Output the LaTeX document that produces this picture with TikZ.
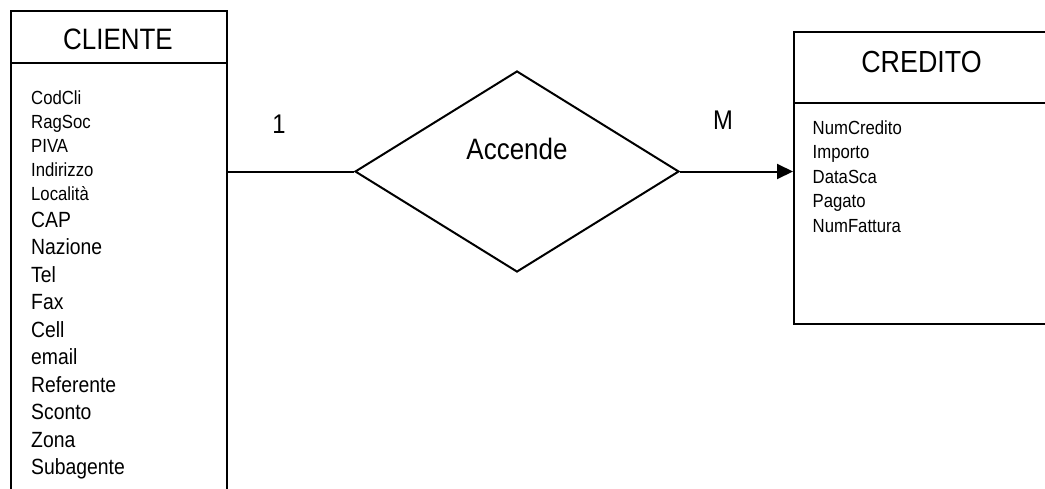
\documentclass[tikz,border=0pt]{standalone}
\usepackage{fontspec}
\setmainfont{Liberation Sans}[FakeStretch=0.88]
\usetikzlibrary{shapes.geometric,arrows.meta}

\begin{document}
\begin{tikzpicture}[x=1pt,y=-1pt,
  frame/.style={draw=black,line width=2pt},
  entitybox/.style={frame,rectangle,inner sep=0pt,anchor=north west},
  relshape/.style={frame,diamond,inner sep=0pt,minimum width=324pt,minimum height=201pt},
  title/.style={inner sep=0pt,anchor=base,font=\fontsize{29.5}{32}\selectfont},
  attrsmall/.style={inner sep=0pt,anchor=base west,font=\fontsize{19}{21}\selectfont},
  attrbig/.style={inner sep=0pt,anchor=base west,font=\fontsize{22}{24}\selectfont},
  card/.style={inner sep=0pt,anchor=base,font=\fontsize{27}{29}\selectfont},
  link/.style={draw=black,line width=2pt}
]
\useasboundingbox (0,0) rectangle (1045,488);

% entity CLIENTE (runs past the lower edge)
\node[entitybox,minimum width=216pt,minimum height=500pt] (cliente) at (10,10) {};
\draw[frame] (10,62.5) -- (226,62.5);
\node[title] (clientetitle) at (118,49.5) {CLIENTE};

\foreach \name/\y in {CodCli/104, RagSoc/128, PIVA/152, Indirizzo/176, Località/200}
  \node[attrsmall] (cl-\y) at (31,\y) {\name};
\foreach \name/\y in {CAP/227, Nazione/254.5, Tel/282.5, Fax/309.5, Cell/337,
                      email/364.5, Referente/392, Sconto/419.5, Zona/447, Subagente/474.5}
  \node[attrbig] (cl-\y) at (31,\y) {\name};

% entity CREDITO (runs past the right edge)
\node[entitybox,minimum width=257pt,minimum height=292pt] (credito) at (793,31) {};
\draw[frame] (793,103) -- (1050,103);
\node[title,font=\fontsize{30.5}{33}\selectfont] (creditotitle) at (921.5,72.5) {CREDITO};

\foreach \name/\y in {NumCredito/134, Importo/158.5, DataSca/183, Pagato/207.5, NumFattura/232}
  \node[attrsmall] (cr-\y) at (812.5,\y) {\name};

% relationship
\node[relshape] (rel) at (517,171.5) {};
\node[title] (reltext) at (517,159) {Accende};

% connectors
\draw[link] (cliente.east |- rel.west) -- (rel.west);
\draw[link,-{Triangle[length=16pt,width=15pt]}] (rel.east) -- (rel.east -| credito.west);

% cardinalities
\node[card] (cardone) at (279,133) {1};
\node[card] (cardmany) at (723,129) {M};
\end{tikzpicture}
\end{document}
